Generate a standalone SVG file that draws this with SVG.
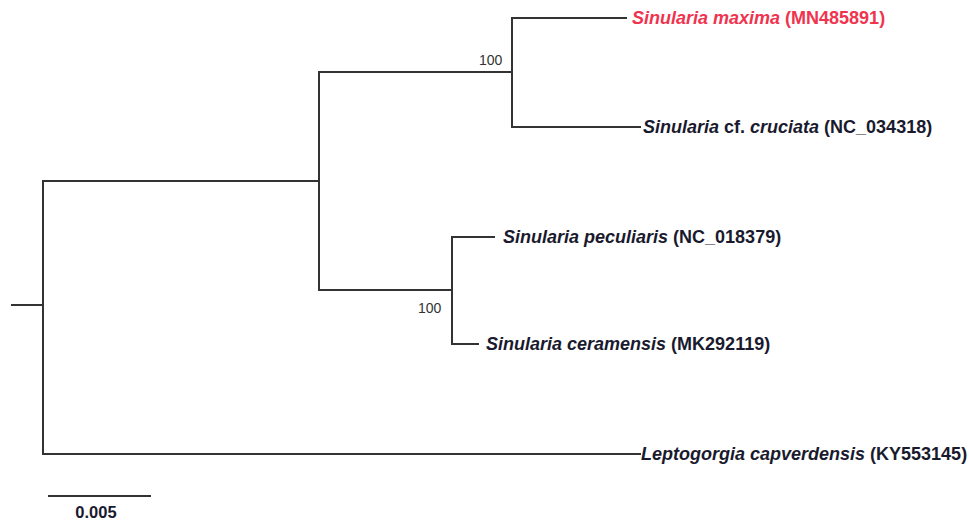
<svg xmlns="http://www.w3.org/2000/svg" width="969" height="523" viewBox="0 0 969 523">
<style>
.br{stroke:#333;stroke-width:2;fill:none;stroke-linecap:square}
.lab{font-family:"Liberation Sans",Arial,sans-serif;font-size:18px;font-weight:bold;fill:#1a1a2e}
.it{font-style:italic}
.red{fill:#f0334f}
.bs{font-family:"Liberation Sans",Arial,sans-serif;font-size:14px;fill:#333}
.sc{font-family:"Liberation Sans",Arial,sans-serif;font-size:16.5px;font-weight:bold;fill:#1a1a2e}
</style>
<rect width="969" height="523" fill="#fff"/>
<g id="connectors">
<path class="br" d="M12,305H43M43,181V454M43,181H319M43,454H640M319,72V290M319,72H512M319,290H452M512,18V127M512,18H626M512,127H640M452,237V344M452,237H494M452,344H478"/>
</g>
<g id="n-maxima"><text class="lab red" x="632" y="24"><tspan class="it">Sinularia maxima</tspan> (MN485891)</text></g>
<g id="n-cruciata"><text class="lab" x="643" y="133"><tspan class="it">Sinularia</tspan> cf. <tspan class="it">cruciata</tspan> (NC_034318)</text></g>
<g id="n-peculiaris"><text class="lab" x="503" y="243"><tspan class="it">Sinularia peculiaris</tspan> (NC_018379)</text></g>
<g id="n-ceramensis"><text class="lab" x="486" y="350"><tspan class="it">Sinularia ceramensis</tspan> (MK292119)</text></g>
<g id="n-lepto"><text class="lab" x="641" y="460"><tspan class="it">Leptogorgia capverdensis</tspan> (KY553145)</text></g>
<g id="bs1"><text class="bs" x="479" y="65">100</text></g>
<g id="bs2"><text class="bs" x="418" y="313">100</text></g>
<g id="scale">
<path class="br" d="M49,496H150"/>
<text class="sc" x="96" y="518" text-anchor="middle">0.005</text>
</g>
</svg>
